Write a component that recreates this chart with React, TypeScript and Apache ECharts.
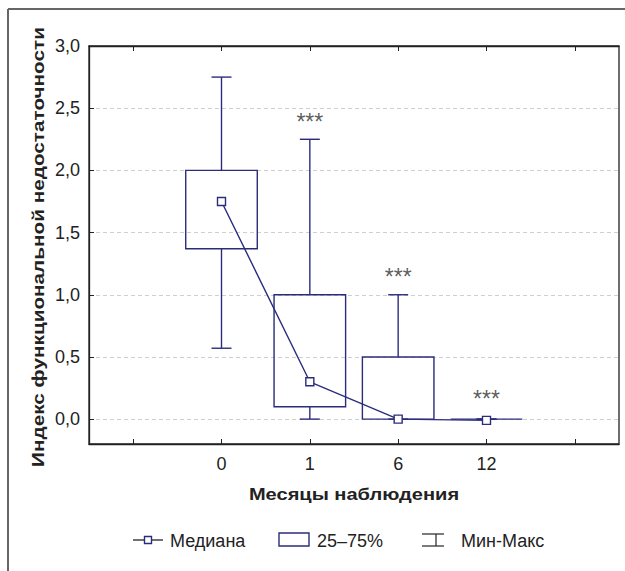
import React, { useEffect, useRef } from "react";
import * as echarts from "echarts";

const categories = ["", "0", "1", "6", "12", ""];
const boxCats = [1, 2, 3, 4];
const boxMin = [0.57, 0.0, 0.0, 0.0];
const boxQ1 = [1.37, 0.1, 0.0, 0.0];
const boxQ3 = [2.0, 1.0, 0.5, 0.0];
const boxMax = [2.75, 2.25, 1.0, 0.0];
const medians = [1.75, 0.3, 0.0, -0.01];
const starCats = [2, 3, 4];
const starValues = [2.39, 1.14, 0.16];
const yTicks = [0, 0.5, 1.0, 1.5, 2.0, 2.5, 3.0];

const NAVY = "#2b2d7c";
const FONT = "Liberation Sans, Arial, sans-serif";

export default function App() {
  const ref = useRef<HTMLDivElement>(null);
  useEffect(() => {
    if (!ref.current) return;
    const chart = echarts.init(ref.current, null, { renderer: "svg" });
    const boxData = boxCats.map((c, i) => [c, boxMin[i], boxQ1[i], boxQ3[i], boxMax[i]]);
    const medData = boxCats.map((c, i) => [c, medians[i]]);
    const starData = starCats.map((c, i) => [c, starValues[i]]);
    const option: any = {
      animation: false,
      backgroundColor: "#fff",
      grid: {
        left: 89,
        right: 6,
        top: 46,
        bottom: 127,
        show: true,
        borderColor: "#222",
        borderWidth: 1.3,
        backgroundColor: "transparent",
      },
      xAxis: [
        {
          type: "category",
          data: categories,
          position: "bottom",
          axisLine: { show: true, onZero: false, lineStyle: { color: "#222", width: 1.3 } },
          axisTick: { show: true, inside: true, alignWithLabel: true, length: 5, lineStyle: { color: "#222" } },
          axisLabel: { color: "#222", fontSize: 18, fontFamily: FONT, margin: 11 },
          splitLine: { show: false },
        },
        {
          type: "category",
          data: categories,
          position: "top",
          axisLine: { show: true, onZero: false, lineStyle: { color: "#222", width: 1.3 } },
          axisTick: { show: true, inside: true, alignWithLabel: true, length: 5, lineStyle: { color: "#222" } },
          axisLabel: { show: false },
          splitLine: { show: false },
        },
      ],
      yAxis: {
        type: "value",
        min: -0.2,
        max: 3.0,
        axisLine: { show: true, lineStyle: { color: "#222", width: 1.3 } },
        axisTick: { show: true, inside: true, length: 5, customValues: yTicks, lineStyle: { color: "#222" } },
        axisLabel: {
          customValues: yTicks,
          color: "#222",
          fontSize: 18,
          fontFamily: FONT,
          margin: 9,
          formatter: (v: number) => v.toFixed(1).replace(".", ","),
        },
        splitLine: { show: true, lineStyle: { color: "#cfcfcf", type: [4, 3], width: 1 } },
      },
      series: [
        {
          type: "custom",
          data: boxData,
          encode: { x: 0, y: [1, 2, 3, 4] },
          renderItem: (params: any, api: any) => {
            const c = api.value(0);
            const pMin = api.coord([c, api.value(1)]);
            const pQ1 = api.coord([c, api.value(2)]);
            const pQ3 = api.coord([c, api.value(3)]);
            const pMax = api.coord([c, api.value(4)]);
            const band = api.size([1, 0])[0];
            const w = band * 0.81;
            const cap = 10;
            const x = pMin[0];
            const st = { stroke: NAVY, lineWidth: 1.4, fill: "none" };
            return {
              type: "group",
              children: [
                { type: "line", shape: { x1: x, y1: pMax[1], x2: x, y2: pQ3[1] }, style: st },
                { type: "line", shape: { x1: x - cap, y1: pMax[1], x2: x + cap, y2: pMax[1] }, style: st },
                { type: "line", shape: { x1: x, y1: pQ1[1], x2: x, y2: pMin[1] }, style: st },
                { type: "line", shape: { x1: x - cap, y1: pMin[1], x2: x + cap, y2: pMin[1] }, style: st },
                {
                  type: "polygon",
                  shape: {
                    points: [
                      [x - w / 2, pQ3[1]],
                      [x + w / 2, pQ3[1]],
                      [x + w / 2, pQ1[1]],
                      [x - w / 2, pQ1[1]],
                    ],
                  },
                  style: st,
                },
              ],
            };
          },
          z: 2,
        },
        {
          type: "line",
          data: medData,
          symbol: "rect",
          symbolSize: 8,
          showSymbol: true,
          lineStyle: { color: NAVY, width: 1.4 },
          itemStyle: { color: "#fff", borderColor: NAVY, borderWidth: 1.4 },
          z: 3,
        },
        {
          type: "scatter",
          data: starData,
          symbolSize: 0,
          label: {
            show: true,
            position: "inside",
            formatter: "***",
            color: "#333",
            fontSize: 23,
            fontFamily: FONT,
          },
          z: 4,
        },
      ],
      graphic: [
        { type: "line", shape: { x1: 8, y1: 9, x2: 625, y2: 9 }, style: { stroke: "#666", lineWidth: 2 } },
        { type: "line", shape: { x1: 8, y1: 9, x2: 8, y2: 571 }, style: { stroke: "#666", lineWidth: 2 } },
        // axis titles
        {
          type: "text",
          x: 354,
          y: 494,
          scaleX: 1.18,
          style: { text: "Месяцы наблюдения", fill: "#222", font: `bold 17px ${FONT}`, align: "center", verticalAlign: "middle" },
        },
        {
          type: "text",
          x: 38,
          y: 247,
          rotation: Math.PI / 2,
          scaleX: 1.22,
          style: {
            text: "Индекс функциональной недостаточности",
            fill: "#222",
            font: `bold 17px ${FONT}`,
            align: "center",
            verticalAlign: "middle",
          },
        },
        // legend: median
        { type: "line", shape: { x1: 133, y1: 540, x2: 163, y2: 540 }, style: { stroke: "#222", lineWidth: 1.3 } },
        { type: "rect", shape: { x: 144.5, y: 536.5, width: 7, height: 7 }, style: { fill: "#fff", stroke: NAVY, lineWidth: 1.4 } },
        { type: "text", x: 170, y: 541, style: { text: "Медиана", fill: "#222", font: `18px ${FONT}`, verticalAlign: "middle" } },
        // legend: box
        { type: "rect", shape: { x: 279, y: 533, width: 30, height: 13 }, style: { fill: "#fff", stroke: NAVY, lineWidth: 1.4 } },
        { type: "text", x: 317, y: 541, style: { text: "25–75%", fill: "#222", font: `18px ${FONT}`, verticalAlign: "middle" } },
        // legend: min-max
        { type: "line", shape: { x1: 422, y1: 534, x2: 444, y2: 534 }, style: { stroke: "#333", lineWidth: 1.3 } },
        { type: "line", shape: { x1: 422, y1: 546, x2: 444, y2: 546 }, style: { stroke: "#333", lineWidth: 1.3 } },
        { type: "line", shape: { x1: 436, y1: 534, x2: 436, y2: 546 }, style: { stroke: "#333", lineWidth: 1.3 } },
        { type: "text", x: 461, y: 541, style: { text: "Мин-Макс", fill: "#222", font: `18px ${FONT}`, verticalAlign: "middle" } },
      ],
    };
    chart.setOption(option);
    return () => chart.dispose();
  }, []);
  return <div ref={ref} style={{ width: 625, height: 571, position: "absolute", left: 0, top: 0 }} />;
}
